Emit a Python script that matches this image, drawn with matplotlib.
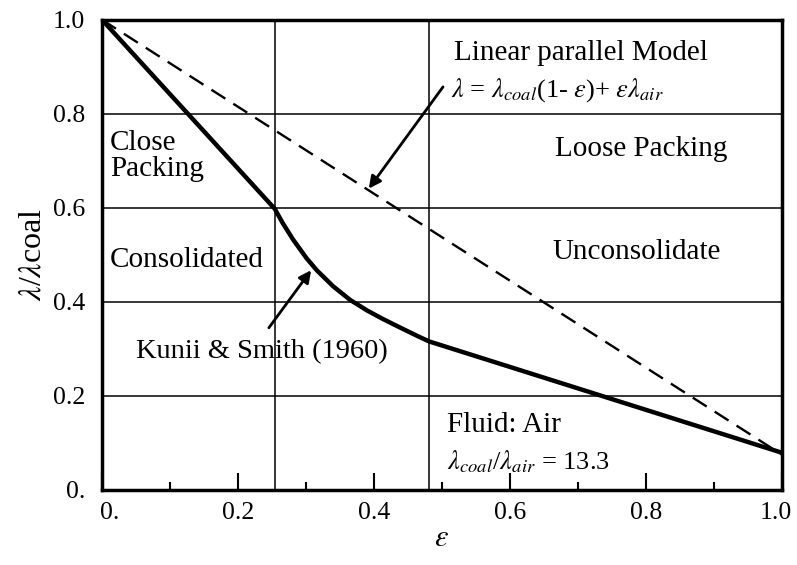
import matplotlib
matplotlib.use('Agg')
import matplotlib.pyplot as plt
import matplotlib.transforms as mtransforms
from matplotlib.ticker import MultipleLocator

plt.rcParams['font.family'] = ['Liberation Serif', 'DejaVu Serif']
plt.rcParams['mathtext.fontset'] = 'stix'

# Kunii & Smith (1960) curve
ks_eps = [0.0, 0.254, 0.266, 0.281, 0.301, 0.316, 0.340, 0.365,
          0.390, 0.413, 0.438, 0.463, 0.481, 1.0]
ks_lam = [1.0, 0.598, 0.567, 0.5325, 0.4925, 0.467, 0.433, 0.404,
          0.3815, 0.3636, 0.3456, 0.328, 0.3158, 0.079]

# linear parallel model
lin_eps = [0.0, 1.0]
lin_lam = [1.0, 0.075]

# region boundaries
bounds = [0.255, 0.481]
hgrid = [0.2, 0.4, 0.6, 0.8]

xticks = [0.0, 0.2, 0.4, 0.6, 0.8, 1.0]
xlabels = ['0.', '0.2', '0.4', '0.6', '0.8', '1.0']
yticks = [0.0, 0.2, 0.4, 0.6, 0.8, 1.0]
ylabels = ['0.', '0.2', '0.4', '0.6', '0.8', '1.0']

fig = plt.figure(figsize=(7.97, 5.65), dpi=100)
ax = fig.add_axes([0.128, 0.133, 0.853, 0.832])

for b in bounds:
    ax.axvline(b, color='black', lw=1.1)
for h in hgrid:
    ax.axhline(h, color='black', lw=1.1)

ax.plot(lin_eps, lin_lam, color='black', lw=1.7, ls=(0, (7, 4)))
ax.plot(ks_eps, ks_lam, color='black', lw=3.2, solid_joinstyle='round')

ax.set_xlim(0, 1)
ax.set_ylim(0, 1)
ax.set_xticks(xticks)
ax.set_xticklabels(xlabels)
ax.xaxis.set_minor_locator(MultipleLocator(0.1))
ax.set_yticks(yticks)
ax.set_yticklabels(ylabels)
ax.tick_params(axis='x', which='major', direction='in', length=12, width=1.5, labelsize=18.5, pad=9)
ax.tick_params(axis='x', which='minor', direction='in', length=6, width=1.5)
ax.tick_params(axis='y', length=0, labelsize=18.5, pad=12)
for s in ax.spines.values():
    s.set_linewidth(2.5)
# first and last x labels nudged like in the original
lbls = ax.get_xticklabels()
lbls[0].set_transform(lbls[0].get_transform() + mtransforms.ScaledTranslation(0.08, 0, fig.dpi_scale_trans))
lbls[-1].set_transform(lbls[-1].get_transform() + mtransforms.ScaledTranslation(-0.06, 0, fig.dpi_scale_trans))

ax.set_xlabel(r'$\varepsilon$', fontsize=22, labelpad=0)
ax.set_ylabel(r'$\lambda$/$\lambda$coal', fontsize=23, labelpad=4)

fs = 21
ax.text(0.518, 0.93, 'Linear parallel Model', fontsize=fs, va='center')
ax.text(0.514, 0.85, r'$\lambda$ = $\lambda_{coal}$(1- $\varepsilon$)+ $\varepsilon\lambda_{air}$', fontsize=19, va='center')
ax.text(0.666, 0.725, 'Loose Packing', fontsize=fs, va='center')
ax.text(0.012, 0.71, 'Close\nPacking', fontsize=fs, va='center', linespacing=1.0)
ax.text(0.012, 0.49, 'Consolidated', fontsize=fs, va='center')
ax.text(0.662, 0.505, 'Unconsolidate', fontsize=fs, va='center')
ax.text(0.05, 0.294, 'Kunii & Smith (1960)', fontsize=20.5, va='center')
ax.text(0.508, 0.138, 'Fluid: Air', fontsize=fs, va='center')
ax.text(0.508, 0.06, r'$\lambda_{coal}$/$\lambda_{air}$ = 13.3', fontsize=19, va='center')

arrow = dict(arrowstyle='-|>', color='black', lw=2, mutation_scale=18)
ax.annotate('', xy=(0.39, 0.636), xytext=(0.504, 0.862), arrowprops=arrow)
ax.annotate('', xy=(0.31, 0.472), xytext=(0.243, 0.34), arrowprops=arrow)

fig.savefig('out.png', dpi=100)
